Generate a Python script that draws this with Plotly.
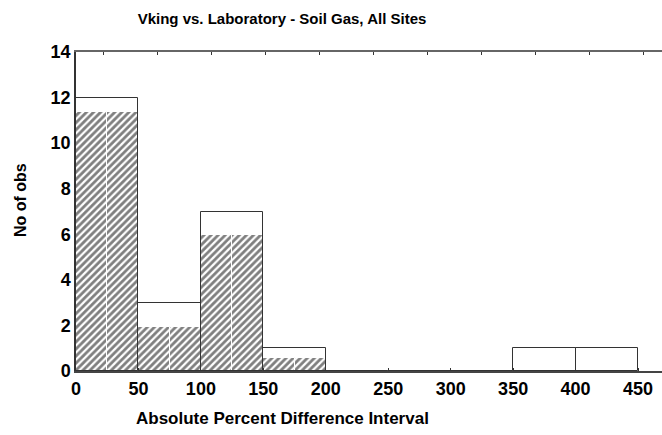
import plotly.graph_objects as go

# Interval edges (absolute percent difference), bin width 50
bin_lefts = [0, 50, 100, 150, 200, 250, 300, 350, 400]
bin_width = 50
# Observed counts per interval
counts = [12, 3, 7, 1, 0, 0, 0, 1, 1]
# Expected counts (hatched), first four intervals
expected = [11.35, 1.92, 5.96, 0.56]

x_ticks = [0, 50, 100, 150, 200, 250, 300, 350, 400, 450]
y_ticks = [0, 2, 4, 6, 8, 10, 12, 14]

FONT = "Liberation Sans, Arial, sans-serif"

centers = [l + bin_width / 2 for l in bin_lefts]

# hatched bars split into half-width pieces
half_x, half_y = [], []
for l, v in zip(bin_lefts, expected):
    for k in range(2):
        half_x.append(l + bin_width / 4 + k * bin_width / 2)
        half_y.append(v)

fig = go.Figure()
fig.add_trace(go.Bar(
    x=half_x, y=half_y, width=bin_width / 2,
    marker=dict(color="white",
                line=dict(color="white", width=1),
                pattern=dict(shape="/", fgcolor="black", bgcolor="white",
                             size=5, solidity=0.55)),
    hoverinfo="skip", showlegend=False,
))
fig.add_trace(go.Bar(
    x=centers, y=counts, width=bin_width,
    marker=dict(color="rgba(0,0,0,0)", line=dict(color="#333", width=1)),
    showlegend=False,
))
# top frame axis
fig.add_trace(go.Scatter(x=[0], y=[0], xaxis="x2", mode="markers",
                         marker=dict(opacity=0), hoverinfo="skip", showlegend=False))

fig.update_layout(
    width=662, height=435,
    margin=dict(l=76, r=0, t=52, b=64),
    paper_bgcolor="white", plot_bgcolor="white",
    barmode="overlay", bargap=0,
    font=dict(family=FONT, size=18, color="black"),
    title=dict(text="<b>Vking vs. Laboratory - Soil Gas, All Sites</b>",
               x=282 / 662, xanchor="center", y=1 - 19 / 435, yanchor="middle",
               font=dict(family=FONT, size=15)),
    xaxis=dict(range=[0, 469.2], tickvals=x_ticks,
               ticktext=[f"<b>{v}</b>" for v in x_ticks],
               ticks="inside", ticklen=3, tickcolor="#333",
               showline=True, linecolor="#444", linewidth=2,
               showgrid=False, zeroline=False,
               tickfont=dict(family=FONT, size=18)),
    xaxis2=dict(overlaying="x", side="top", range=[-0.5, 10.35],
                tickvals=list(range(11)), showticklabels=False,
                ticks="inside", ticklen=3, tickcolor="#333",
                showline=True, linecolor="#666", linewidth=2,
                showgrid=False, zeroline=False),
    yaxis=dict(range=[0, 14], tickvals=y_ticks,
               ticktext=[f"<b>{v}</b>" for v in y_ticks],
               ticks="", showline=True, linecolor="#333", linewidth=1.5,
               showgrid=False, zeroline=False,
               tickfont=dict(family=FONT, size=18)),
    annotations=[
        dict(text="<b>Absolute Percent Difference Interval</b>",
             xref="paper", yref="paper", x=(282 - 76) / 586, y=-47 / 319,
             xanchor="center", yanchor="middle", showarrow=False,
             font=dict(family=FONT, size=17)),
        dict(text="<b>No of obs</b>", textangle=-90,
             xref="paper", yref="paper", x=-56 / 586, y=(371 - 200) / 319,
             xanchor="center", yanchor="middle", showarrow=False,
             font=dict(family=FONT, size=16)),
    ],
)

fig.write_html("out.html")
